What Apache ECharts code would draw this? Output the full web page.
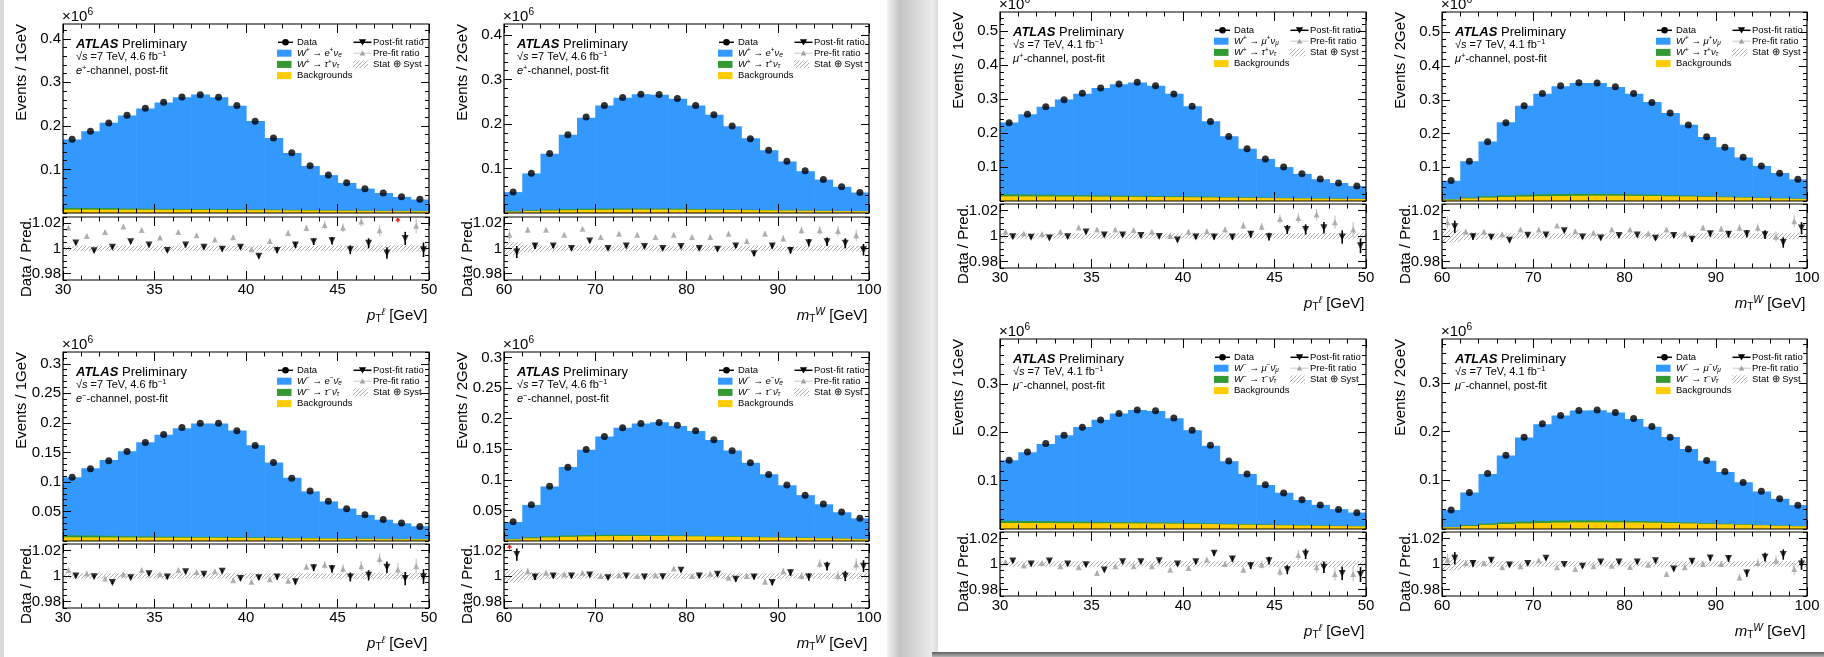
<!DOCTYPE html>
<html>
<head>
<meta charset="utf-8">
<title>W boson post-fit distributions</title>
<script src="https://cdn.jsdelivr.net/npm/echarts@6.0.0/dist/echarts.min.js"></script>
<style>
  html, body { margin: 0; padding: 0; background: #d9d9d9; }
  #chart { width: 1824px; height: 657px; }
</style>
</head>
<body>
<div id="chart"></div>
<script>
const FONT = '"Liberation Sans", Arial, Helvetica, sans-serif';
const COL_SIG = '#3399ff';
const COL_TAU = '#339933';
const COL_BKG = '#ffcc00';

// ---- binning and tick labels ----
const ptEdges = [30, 31, 32, 33, 34, 35, 36, 37, 38, 39, 40, 41, 42, 43, 44, 45, 46, 47, 48, 49, 50];
const mtEdges = [60, 62, 64, 66, 68, 70, 72, 74, 76, 78, 80, 82, 84, 86, 88, 90, 92, 94, 96, 98, 100];
const ptTickLabels = [30, 35, 40, 45, 50];
const mtTickLabels = [60, 70, 80, 90, 100];
const ratioTickLabels = [0.98, 1, 1.02];
const ePlusYTicks = [0.1, 0.2, 0.3, 0.4];
const eMinusYTicks = [0.05, 0.1, 0.15, 0.2, 0.25, 0.3];
const muPlusYTicks = [0.1, 0.2, 0.3, 0.4, 0.5];
const muMinusYTicks = [0.1, 0.2, 0.3];
const RATIO_MIN = 0.975, RATIO_MAX = 1.025;

// ---- e+ channel, lepton pT (events x10^6 per GeV) ----
const ePlusPtData = [0.1695, 0.1878, 0.2069, 0.2244, 0.2405, 0.2542, 0.2664, 0.2718, 0.2656, 0.2466,
                     0.2107, 0.1725, 0.1382, 0.1084, 0.0870, 0.0695, 0.0557, 0.0458, 0.0374, 0.0313];
const ePlusPtPred = [0.169, 0.188, 0.207, 0.224, 0.240, 0.254, 0.266, 0.272, 0.266, 0.246,
                     0.211, 0.172, 0.138, 0.108, 0.087, 0.069, 0.056, 0.046, 0.037, 0.031];
const ePlusPtTau  = [0.0040, 0.0038, 0.0035, 0.0028, 0.0025, 0.0022, 0.0020, 0.0019, 0.0018, 0.0017,
                     0.0016, 0.0014, 0.0013, 0.0012, 0.0011, 0.0010, 0.0009, 0.0008, 0.0008, 0.0007];
const ePlusPtBkg  = [0.0078, 0.0077, 0.0076, 0.0075, 0.0074, 0.0073, 0.0072, 0.0071, 0.0070, 0.0068,
                     0.0066, 0.0063, 0.0060, 0.0057, 0.0054, 0.0051, 0.0048, 0.0045, 0.0042, 0.0040];
const ePlusPtPre  = [1.0164, 1.0100, 1.0130, 1.0174, 1.0146, 1.0087, 1.0130, 1.0105, 1.0072, 1.0090,
                     0.9995, 1.0059, 1.0123, 1.0162, 1.0187, 1.0164, 1.0215, 1.0144, 1.0280, 1.0180];
const ePlusPtPost = [1.0044, 0.9982, 1.0010, 1.0054, 1.0028, 0.9985, 1.0028, 1.0010, 0.9995, 1.0010,
                     0.9938, 0.9985, 1.0028, 1.0054, 1.0062, 0.9990, 1.0041, 0.9964, 1.0080, 0.9990];

// ---- e+ channel, transverse mass (per 2 GeV) ----
const ePlusMtData = [0.0470, 0.0896, 0.1336, 0.1760, 0.2157, 0.2418, 0.2597, 0.2672, 0.2664, 0.2575,
                     0.2418, 0.2209, 0.1955, 0.1672, 0.1410, 0.1164, 0.0948, 0.0754, 0.0590, 0.0463];
const ePlusMtPred = [0.047, 0.089, 0.133, 0.176, 0.214, 0.242, 0.259, 0.267, 0.266, 0.257,
                     0.242, 0.221, 0.195, 0.168, 0.141, 0.116, 0.094, 0.075, 0.059, 0.046];
const ePlusMtTau  = [0.0008, 0.0015, 0.0020, 0.0024, 0.0026, 0.0027, 0.0027, 0.0026, 0.0024, 0.0022,
                     0.0019, 0.0016, 0.0013, 0.0011, 0.0009, 0.0007, 0.0006, 0.0005, 0.0004, 0.0003];
const ePlusMtBkg  = [0.0030, 0.0045, 0.0055, 0.0062, 0.0068, 0.0072, 0.0075, 0.0076, 0.0076, 0.0075,
                     0.0073, 0.0070, 0.0067, 0.0063, 0.0059, 0.0055, 0.0051, 0.0047, 0.0043, 0.0040];
const ePlusMtPre  = [1.0110, 1.0149, 1.0149, 1.0110, 1.0156, 1.0092, 1.0118, 1.0110, 1.0092, 1.0110,
                     1.0092, 1.0092, 1.0118, 1.0059, 1.0118, 1.0080, 1.0144, 1.0144, 1.0138, 1.0105];
const ePlusMtPost = [0.9972, 1.0020, 1.0020, 1.0000, 1.0059, 1.0000, 1.0020, 1.0015, 1.0000, 1.0015,
                     1.0000, 0.9995, 1.0020, 0.9959, 1.0020, 0.9985, 1.0046, 1.0054, 1.0041, 0.9990];

// ---- e- channel, lepton pT ----
const eMinusPtData = [0.1079, 0.1225, 0.1360, 0.1517, 0.1669, 0.1803, 0.1921, 0.1994, 0.1994, 0.1865,
                      0.1618, 0.1331, 0.1062, 0.0848, 0.0674, 0.0545, 0.0444, 0.0365, 0.0303, 0.0247];
const eMinusPtPred = [0.108, 0.123, 0.137, 0.152, 0.167, 0.180, 0.191, 0.199, 0.199, 0.187,
                      0.162, 0.133, 0.107, 0.084, 0.067, 0.055, 0.044, 0.036, 0.030, 0.025];
const eMinusPtTau  = [0.0034, 0.0032, 0.0028, 0.0022, 0.0019, 0.0017, 0.0015, 0.0014, 0.0013, 0.0012,
                      0.0011, 0.0010, 0.0009, 0.0008, 0.0008, 0.0007, 0.0006, 0.0006, 0.0005, 0.0005];
const eMinusPtBkg  = [0.0062, 0.0061, 0.0060, 0.0059, 0.0058, 0.0057, 0.0056, 0.0055, 0.0054, 0.0052,
                      0.0050, 0.0048, 0.0045, 0.0042, 0.0040, 0.0037, 0.0035, 0.0032, 0.0030, 0.0028];
const eMinusPtPre  = [1.0046, 1.0020, 0.9980, 1.0013, 1.0046, 1.0013, 1.0046, 1.0031, 1.0038, 0.9967,
                      0.9956, 0.9974, 0.9962, 1.0072, 1.0087, 1.0056, 1.0077, 1.0133, 1.0051, 1.0077];
const eMinusPtPost = [1.0000, 0.9995, 0.9949, 0.9987, 1.0018, 0.9992, 1.0033, 1.0013, 1.0038, 0.9980,
                      0.9987, 0.9992, 0.9956, 1.0064, 1.0056, 0.9992, 1.0005, 1.0069, 0.9980, 0.9995];

// ---- e- channel, transverse mass ----
const eMinusMtData = [0.0316, 0.0592, 0.0894, 0.1207, 0.1494, 0.1710, 0.1850, 0.1920, 0.1936, 0.1893,
                      0.1801, 0.1656, 0.1477, 0.1278, 0.1089, 0.0916, 0.0748, 0.0603, 0.0473, 0.0370];
const eMinusMtPred = [0.031, 0.059, 0.089, 0.121, 0.149, 0.171, 0.185, 0.192, 0.194, 0.188,
                      0.180, 0.165, 0.148, 0.128, 0.109, 0.091, 0.075, 0.060, 0.047, 0.037];
const eMinusMtTau  = [0.0008, 0.0016, 0.0020, 0.0022, 0.0022, 0.0021, 0.0020, 0.0018, 0.0016, 0.0014,
                      0.0012, 0.0011, 0.0010, 0.0009, 0.0008, 0.0007, 0.0006, 0.0005, 0.0005, 0.0004];
const eMinusMtBkg  = [0.0027, 0.0044, 0.0058, 0.0068, 0.0075, 0.0080, 0.0082, 0.0082, 0.0081, 0.0079,
                      0.0076, 0.0072, 0.0068, 0.0063, 0.0058, 0.0053, 0.0048, 0.0043, 0.0038, 0.0030];
const eMinusMtPre  = [1.0270, 1.0038, 1.0026, 1.0013, 1.0026, 1.0000, 1.0005, 1.0000, 1.0005, 1.0059,
                      1.0000, 1.0018, 0.9987, 1.0000, 0.9956, 1.0038, 1.0000, 1.0095, 1.0000, 1.0090];
const eMinusMtPost = [1.0167, 0.9992, 1.0000, 1.0000, 1.0008, 0.9987, 1.0000, 0.9992, 0.9995, 1.0044,
                      1.0000, 1.0013, 0.9974, 0.9992, 0.9949, 1.0026, 0.9992, 1.0077, 1.0000, 1.0077];

// ---- mu+ channel, lepton pT ----
const muPlusPtData = [0.2307, 0.2553, 0.2779, 0.2985, 0.3172, 0.3329, 0.3447, 0.3496, 0.3398, 0.3152,
                      0.2789, 0.2346, 0.1904, 0.1541, 0.1236, 0.1000, 0.0803, 0.0646, 0.0528, 0.0440];
const muPlusPtPred = [0.231, 0.256, 0.278, 0.299, 0.316, 0.333, 0.344, 0.349, 0.340, 0.316,
                      0.279, 0.235, 0.191, 0.154, 0.124, 0.100, 0.080, 0.064, 0.053, 0.044];
const muPlusPtTau  = [0.0059, 0.0055, 0.0050, 0.0044, 0.0040, 0.0036, 0.0033, 0.0030, 0.0028, 0.0026,
                      0.0024, 0.0022, 0.0020, 0.0018, 0.0016, 0.0015, 0.0013, 0.0012, 0.0011, 0.0010];
const muPlusPtBkg  = [0.0138, 0.0136, 0.0134, 0.0132, 0.0130, 0.0128, 0.0125, 0.0122, 0.0118, 0.0114,
                      0.0109, 0.0104, 0.0098, 0.0092, 0.0086, 0.0080, 0.0074, 0.0068, 0.0063, 0.0059];
const muPlusPtPre  = [1.0033, 1.0020, 1.0015, 1.0033, 1.0067, 1.0051, 1.0051, 1.0046, 1.0033, 1.0000,
                      1.0033, 1.0038, 1.0051, 1.0082, 1.0072, 1.0133, 1.0141, 1.0167, 1.0108, 1.0051];
const muPlusPtPost = [0.9995, 0.9990, 0.9985, 0.9995, 1.0031, 1.0008, 1.0008, 1.0003, 0.9997, 0.9969,
                      0.9992, 0.9992, 0.9992, 1.0013, 0.9995, 1.0051, 1.0051, 1.0064, 0.9992, 0.9923];

// ---- mu+ channel, transverse mass ----
const muPlusMtData = [0.0606, 0.1177, 0.1759, 0.2320, 0.2823, 0.3187, 0.3414, 0.3502, 0.3493, 0.3384,
                      0.3187, 0.2921, 0.2606, 0.2251, 0.1906, 0.1591, 0.1296, 0.1039, 0.0823, 0.0645];
const muPlusMtPred = [0.060, 0.118, 0.176, 0.233, 0.282, 0.318, 0.340, 0.350, 0.350, 0.338,
                      0.318, 0.293, 0.261, 0.226, 0.190, 0.159, 0.129, 0.104, 0.083, 0.064];
const muPlusMtTau  = [0.0010, 0.0025, 0.0038, 0.0047, 0.0053, 0.0057, 0.0058, 0.0057, 0.0054, 0.0050,
                      0.0045, 0.0039, 0.0033, 0.0028, 0.0023, 0.0019, 0.0015, 0.0012, 0.0010, 0.0008];
const muPlusMtBkg  = [0.0040, 0.0075, 0.0100, 0.0118, 0.0132, 0.0142, 0.0150, 0.0155, 0.0157, 0.0156,
                      0.0153, 0.0148, 0.0141, 0.0132, 0.0122, 0.0111, 0.0099, 0.0087, 0.0074, 0.0062];
const muPlusMtPre  = [1.0108, 1.0033, 1.0033, 1.0013, 1.0051, 1.0051, 1.0082, 1.0038, 1.0026, 1.0051,
                      1.0051, 1.0020, 1.0051, 1.0018, 1.0064, 1.0056, 1.0064, 1.0064, 0.9995, 1.0115];
const muPlusMtPost = [1.0072, 0.9995, 0.9990, 0.9967, 1.0005, 1.0008, 1.0041, 0.9992, 0.9985, 1.0003,
                      1.0008, 0.9982, 1.0003, 0.9974, 1.0018, 1.0013, 1.0018, 1.0010, 0.9949, 1.0062];

// ---- mu- channel, lepton pT ----
const muMinusPtData = [0.1422, 0.1595, 0.1768, 0.1941, 0.2107, 0.2253, 0.2391, 0.2460, 0.2446, 0.2294,
                       0.2045, 0.1734, 0.1408, 0.1138, 0.0917, 0.0744, 0.0606, 0.0495, 0.0405, 0.0336];
const muMinusPtPred = [0.142, 0.159, 0.176, 0.194, 0.211, 0.226, 0.239, 0.246, 0.244, 0.229,
                       0.204, 0.172, 0.140, 0.114, 0.091, 0.075, 0.060, 0.050, 0.041, 0.034];
const muMinusPtTau  = [0.0045, 0.0042, 0.0038, 0.0033, 0.0030, 0.0027, 0.0025, 0.0023, 0.0021, 0.0019,
                       0.0017, 0.0015, 0.0014, 0.0013, 0.0012, 0.0011, 0.0010, 0.0009, 0.0008, 0.0008];
const muMinusPtBkg  = [0.0125, 0.0124, 0.0123, 0.0122, 0.0121, 0.0120, 0.0118, 0.0116, 0.0113, 0.0110,
                       0.0106, 0.0101, 0.0095, 0.0089, 0.0083, 0.0077, 0.0071, 0.0065, 0.0060, 0.0055];
const muMinusPtPre  = [1.0016, 0.9989, 1.0008, 0.9982, 0.9974, 0.9929, 0.9982, 0.9982, 0.9982, 0.9955,
                       0.9968, 1.0034, 1.0000, 0.9955, 0.9995, 0.9942, 1.0071, 0.9974, 0.9921, 0.9921];
const muMinusPtPost = [1.0024, 1.0000, 1.0024, 1.0000, 0.9995, 0.9953, 1.0018, 1.0018, 1.0026, 1.0000,
                       1.0018, 1.0084, 1.0039, 0.9987, 1.0026, 0.9955, 1.0079, 0.9974, 0.9926, 0.9918];

// ---- mu- channel, transverse mass ----
const muMinusMtData = [0.0390, 0.0747, 0.1137, 0.1514, 0.1884, 0.2158, 0.2329, 0.2432, 0.2445, 0.2390,
                       0.2267, 0.2103, 0.1884, 0.1644, 0.1404, 0.1178, 0.0952, 0.0774, 0.0623, 0.0486];
const muMinusMtPred = [0.039, 0.075, 0.113, 0.151, 0.188, 0.215, 0.233, 0.243, 0.244, 0.239,
                       0.226, 0.210, 0.189, 0.164, 0.140, 0.117, 0.096, 0.077, 0.062, 0.049];
const muMinusMtTau  = [0.0008, 0.0018, 0.0028, 0.0035, 0.0039, 0.0041, 0.0041, 0.0040, 0.0038, 0.0035,
                       0.0031, 0.0027, 0.0023, 0.0019, 0.0016, 0.0013, 0.0011, 0.0009, 0.0008, 0.0007];
const muMinusMtBkg  = [0.0034, 0.0062, 0.0085, 0.0102, 0.0115, 0.0125, 0.0132, 0.0136, 0.0137, 0.0136,
                       0.0133, 0.0128, 0.0122, 0.0114, 0.0105, 0.0096, 0.0087, 0.0077, 0.0066, 0.0055];
const muMinusMtPre  = [1.0034, 1.0008, 1.0008, 0.9974, 0.9982, 1.0029, 0.9974, 0.9961, 0.9982, 0.9987,
                       0.9976, 0.9995, 0.9921, 0.9974, 1.0000, 1.0000, 0.9895, 1.0008, 1.0026, 0.9961];
const muMinusMtPost = [1.0045, 1.0003, 1.0029, 0.9992, 1.0003, 1.0045, 0.9997, 0.9982, 1.0016, 1.0016,
                       1.0016, 1.0026, 0.9961, 1.0021, 1.0047, 1.0042, 0.9929, 1.0053, 1.0074, 1.0000];

// ---- ratio uncertainties ----
const ptRatioErr = [0.0012, 0.0012, 0.0012, 0.0012, 0.0012, 0.0012, 0.0012, 0.0012, 0.0013, 0.0014,
                    0.0016, 0.0019, 0.0022, 0.0026, 0.0030, 0.0035, 0.0040, 0.0045, 0.0052, 0.0058];
const mtRatioErr = [0.0048, 0.0024, 0.0016, 0.0013, 0.0012, 0.0012, 0.0012, 0.0012, 0.0012, 0.0012,
                    0.0013, 0.0014, 0.0016, 0.0018, 0.0021, 0.0025, 0.0029, 0.0034, 0.0040, 0.0046];
const ptBand = [0.0021, 0.0021, 0.0021, 0.0021, 0.0021, 0.0021, 0.0021, 0.0021, 0.0021, 0.0021,
                0.0021, 0.0021, 0.0021, 0.0021, 0.0021, 0.0022, 0.0023, 0.0024, 0.0025, 0.0026];
const mtBand = [0.0050, 0.0030, 0.0023, 0.0021, 0.0021, 0.0021, 0.0021, 0.0021, 0.0021, 0.0021,
                0.0021, 0.0021, 0.0021, 0.0021, 0.0021, 0.0021, 0.0021, 0.0022, 0.0023, 0.0025];

const panels = [
  { edges: ptEdges, xTicks: ptTickLabels, xMinor: 1, yMax: 0.434, yTicks: ePlusYTicks, yMinor: 0.02,
    data: ePlusPtData, pred: ePlusPtPred, tau: ePlusPtTau, bkg: ePlusPtBkg, pre: ePlusPtPre, post: ePlusPtPost,
    err: ptRatioErr, band: ptBand, obs: 'pt', lep: 'e', sign: '+', lumi: '4.6' },
  { edges: mtEdges, xTicks: mtTickLabels, xMinor: 2, yMax: 0.425, yTicks: ePlusYTicks, yMinor: 0.02,
    data: ePlusMtData, pred: ePlusMtPred, tau: ePlusMtTau, bkg: ePlusMtBkg, pre: ePlusMtPre, post: ePlusMtPost,
    err: mtRatioErr, band: mtBand, obs: 'mt', lep: 'e', sign: '+', lumi: '4.6' },
  { edges: ptEdges, xTicks: ptTickLabels, xMinor: 1, yMax: 0.32, yTicks: eMinusYTicks, yMinor: 0.01,
    data: eMinusPtData, pred: eMinusPtPred, tau: eMinusPtTau, bkg: eMinusPtBkg, pre: eMinusPtPre, post: eMinusPtPost,
    err: ptRatioErr, band: ptBand, obs: 'pt', lep: 'e', sign: '-', lumi: '4.6' },
  { edges: mtEdges, xTicks: mtTickLabels, xMinor: 2, yMax: 0.309, yTicks: eMinusYTicks, yMinor: 0.01,
    data: eMinusMtData, pred: eMinusMtPred, tau: eMinusMtTau, bkg: eMinusMtBkg, pre: eMinusMtPre, post: eMinusMtPost,
    err: mtRatioErr, band: mtBand, obs: 'mt', lep: 'e', sign: '-', lumi: '4.6' },
  { edges: ptEdges, xTicks: ptTickLabels, xMinor: 1, yMax: 0.557, yTicks: muPlusYTicks, yMinor: 0.02,
    data: muPlusPtData, pred: muPlusPtPred, tau: muPlusPtTau, bkg: muPlusPtBkg, pre: muPlusPtPre, post: muPlusPtPost,
    err: ptRatioErr, band: ptBand, obs: 'pt', lep: 'mu', sign: '+', lumi: '4.1' },
  { edges: mtEdges, xTicks: mtTickLabels, xMinor: 2, yMax: 0.56, yTicks: muPlusYTicks, yMinor: 0.02,
    data: muPlusMtData, pred: muPlusMtPred, tau: muPlusMtTau, bkg: muPlusMtBkg, pre: muPlusMtPre, post: muPlusMtPost,
    err: mtRatioErr, band: mtBand, obs: 'mt', lep: 'mu', sign: '+', lumi: '4.1' },
  { edges: ptEdges, xTicks: ptTickLabels, xMinor: 1, yMax: 0.393, yTicks: muMinusYTicks, yMinor: 0.02,
    data: muMinusPtData, pred: muMinusPtPred, tau: muMinusPtTau, bkg: muMinusPtBkg, pre: muMinusPtPre, post: muMinusPtPost,
    err: ptRatioErr, band: ptBand, obs: 'pt', lep: 'mu', sign: '-', lumi: '4.1' },
  { edges: mtEdges, xTicks: mtTickLabels, xMinor: 2, yMax: 0.39, yTicks: muMinusYTicks, yMinor: 0.02,
    data: muMinusMtData, pred: muMinusMtPred, tau: muMinusMtTau, bkg: muMinusMtBkg, pre: muMinusMtPre, post: muMinusMtPost,
    err: mtRatioErr, band: mtBand, obs: 'mt', lep: 'mu', sign: '-', lumi: '4.1' }
];

// frame boxes: L/R edges, main pad top/bottom, ratio pad top/bottom (px)
const frames = [
  { L: 63,   R: 429,  T: 24,  MB: 213, RT: 217, RB: 280 },
  { L: 504,  R: 869,  T: 24,  MB: 213, RT: 217, RB: 280 },
  { L: 63,   R: 429,  T: 352, MB: 541, RT: 544, RB: 608 },
  { L: 504,  R: 869,  T: 352, MB: 541, RT: 544, RB: 608 },
  { L: 1000, R: 1366, T: 12,  MB: 201, RT: 204, RB: 268 },
  { L: 1442, R: 1807, T: 12,  MB: 201, RT: 204, RB: 268 },
  { L: 1000, R: 1366, T: 339, MB: 529, RT: 532, RB: 596 },
  { L: 1442, R: 1807, T: 339, MB: 529, RT: 532, RB: 596 }
];

// ---- helpers ----
function makeHatch() {
  const c = document.createElement('canvas');
  c.width = 4; c.height = 4;
  const ctx = c.getContext('2d');
  ctx.strokeStyle = '#8c8c8c';
  ctx.lineWidth = 0.7;
  ctx.beginPath();
  ctx.moveTo(0, 4); ctx.lineTo(4, 0);
  ctx.moveTo(-1, 1); ctx.lineTo(1, -1);
  ctx.moveTo(3, 5); ctx.lineTo(5, 3);
  ctx.stroke();
  return c;
}
const hatchFill = { image: makeHatch(), repeat: 'repeat' };

function ticksBetween(lo, hi, step, majors) {
  const out = [];
  const n = Math.floor((hi - lo) / step + 1e-6);
  for (let k = 0; k <= n; k++) {
    const v = +(lo + k * step).toFixed(6);
    if (!majors.some(m => Math.abs(m - v) < 1e-9)) out.push(v);
  }
  return out;
}

const fmtNum = v => String(+(+v).toFixed(3));
const LABEL = { fontSize: 15, fontFamily: FONT, color: '#000', margin: 2, formatter: fmtNum };

function rich(size) {
  const s = +(size * 0.68).toFixed(1);
  const up = Math.round(size * 0.55), dn = Math.round(size * 0.45);
  const base = { fontFamily: FONT, fill: '#000' };
  return {
    it:   Object.assign({ fontSize: size, fontStyle: 'italic' }, base),
    bi:   Object.assign({ fontSize: size, fontStyle: 'italic', fontWeight: 'bold' }, base),
    n:    Object.assign({ fontSize: size }, base),
    sup:  Object.assign({ fontSize: s, padding: [0, 0, up, 0] }, base),
    supi: Object.assign({ fontSize: s, fontStyle: 'italic', padding: [0, 0, up, 0] }, base),
    sub:  Object.assign({ fontSize: s, padding: [dn, 0, 0, 0] }, base),
    subi: Object.assign({ fontSize: s, fontStyle: 'italic', padding: [dn, 0, 0, 0] }, base)
  };
}

function textEl(x, y, text, size, opts) {
  opts = opts || {};
  return {
    type: 'text', x: x, y: y, z: 40, silent: true, rotation: opts.rotation || 0,
    style: {
      text: text, fontSize: size, fontFamily: FONT, fill: '#000',
      fontWeight: opts.bold ? 'bold' : 'normal',
      align: opts.align || 'left', verticalAlign: 'middle',
      textAlign: opts.align || 'left', textVerticalAlign: 'middle',
      rich: rich(size)
    }
  };
}

function layerRect(fill) {
  return function (params, api) {
    const a = api.coord([api.value(0), api.value(3)]);
    const b = api.coord([api.value(1), api.value(2)]);
    return { type: 'rect', shape: { x: a[0], y: a[1], width: b[0] - a[0] + 0.6, height: b[1] - a[1] },
             style: { fill: fill } };
  };
}

function errorBars(color, width, yMax, arrowColor) {
  return function (params, api) {
    const x = api.value(0), v = api.value(1), e = api.value(2);
    if (v > yMax) {
      if (!arrowColor) return null;
      const top = api.coord([x, yMax]);
      const base = api.coord([x, yMax - 0.0042]);
      return { type: 'group', children: [
        { type: 'line', shape: { x1: base[0], y1: base[1], x2: top[0], y2: top[1] + 2 },
          style: { stroke: arrowColor, lineWidth: 1.5 } },
        { type: 'polygon', shape: { points: [[top[0] - 2.6, top[1] + 3.8], [top[0] + 2.6, top[1] + 3.8], [top[0], top[1] + 0.3]] },
          style: { fill: arrowColor } }
      ] };
    }
    const p = api.coord([x, v - e]), q = api.coord([x, v + e]);
    return { type: 'line', shape: { x1: p[0], y1: p[1], x2: q[0], y2: q[1] },
             style: { stroke: color, lineWidth: width } };
  };
}

const grids = [], xAxis = [], yAxis = [], series = [], elements = [];

function addAxisSet(list, g, min, max, majors, minors, positions, lens, labelOn) {
  const first = list.length;
  positions.forEach((pos, pi) => {
    [[majors, lens[0]], [minors, lens[1]]].forEach((pair, mi) => {
      const showLabel = labelOn && pi === 0 && mi === 0;
      list.push({
        gridIndex: g, type: 'value', min: min, max: max, position: pos, z: 10,
        axisLine: { show: false, onZero: false },
        splitLine: { show: false },
        axisTick: { show: true, inside: true, length: pair[1], customValues: pair[0],
                    lineStyle: { color: '#000', width: 1 } },
        axisLabel: showLabel ? Object.assign({ show: true, customValues: majors }, LABEL) : { show: false }
      });
    });
  });
  return first;
}

function signalLabel(lep, sign, tau) {
  const s = sign === '+' ? '+' : '−';
  const nu = sign === '+' ? 'ν' : 'ν\u0304';
  const l = tau ? 'τ' : (lep === 'e' ? 'e' : 'μ');
  return '{it|W}{sup|' + s + '} → {it|' + l + '}{sup|' + s + '}{it|' + nu + '}{subi|' + l + '}';
}

// ---- page sheets ----
elements.push({ type: 'rect', z: -20, silent: true, shape: { x: 0, y: 0, width: 1824, height: 657 },
                style: { fill: '#d9d9d9' } });
elements.push({ type: 'rect', z: -19, silent: true, shape: { x: 4, y: 0, width: 883, height: 657 },
                style: { fill: '#ffffff' } });
elements.push({ type: 'rect', z: -19, silent: true, shape: { x: 887, y: 0, width: 51, height: 657 },
                style: { fill: new echarts.graphic.LinearGradient(0, 0, 1, 0, [
                  { offset: 0, color: '#f3f3f3' }, { offset: 0.25, color: '#c4c4c4' },
                  { offset: 0.9, color: '#ececec' }, { offset: 1, color: '#dadada' }]) } });
elements.push({ type: 'rect', z: -18, silent: true, shape: { x: 938, y: 0, width: 886, height: 652 },
                style: { fill: '#ffffff' } });
elements.push({ type: 'rect', z: -18, silent: true, shape: { x: 932, y: 652, width: 892, height: 5 },
                style: { fill: new echarts.graphic.LinearGradient(0, 0, 0, 1, [
                  { offset: 0, color: '#5e5e5e' }, { offset: 1, color: '#b5b5b5' }]) } });

// ---- panels ----
panels.forEach((p, i) => {
  const f = frames[i];
  const W = f.R - f.L;
  const gMain = grids.length;
  grids.push({ left: f.L, top: f.T, width: W, height: f.MB - f.T, show: false });
  const gRat = grids.length;
  grids.push({ left: f.L, top: f.RT, width: W, height: f.RB - f.RT, show: false });

  const xMin = p.edges[0], xMax = p.edges[p.edges.length - 1];
  const xMinors = ticksBetween(xMin, xMax, p.xMinor, p.xTicks);
  const yMinors = ticksBetween(0, p.yMax, p.yMinor, p.yTicks);
  const rMinors = ticksBetween(RATIO_MIN, RATIO_MAX, 0.005, ratioTickLabels);

  const xm = addAxisSet(xAxis, gMain, xMin, xMax, p.xTicks, xMinors, ['bottom', 'top'], [9, 4.5], false);
  const ym = addAxisSet(yAxis, gMain, 0, p.yMax, p.yTicks, yMinors, ['left', 'right'], [8, 4], true);
  const xr = addAxisSet(xAxis, gRat, xMin, xMax, p.xTicks, xMinors, ['bottom', 'top'], [9, 4.5], true);
  const yr = addAxisSet(yAxis, gRat, RATIO_MIN, RATIO_MAX, ratioTickLabels, rMinors, ['left', 'right'], [8, 4], true);

  const lows = p.edges.slice(0, -1);
  const highs = p.edges.slice(1);
  const centers = lows.map((x0, k) => (x0 + highs[k]) / 2);
  const shift = k => 0.2 * (highs[k] - lows[k]);

  // stacked prediction: signal drawn to the stack top, tau and backgrounds over it
  series.push({ type: 'custom', xAxisIndex: xm, yAxisIndex: ym, clip: true, silent: true, z: 2,
    data: lows.map((x0, k) => [x0, highs[k], 0, p.pred[k]]), renderItem: layerRect(COL_SIG) });
  series.push({ type: 'custom', xAxisIndex: xm, yAxisIndex: ym, clip: true, silent: true, z: 2,
    data: lows.map((x0, k) => [x0, highs[k], 0, p.bkg[k] + p.tau[k]]), renderItem: layerRect(COL_TAU) });
  series.push({ type: 'custom', xAxisIndex: xm, yAxisIndex: ym, clip: true, silent: true, z: 2,
    data: lows.map((x0, k) => [x0, highs[k], 0, p.bkg[k]]), renderItem: layerRect(COL_BKG) });
  series.push({ type: 'scatter', xAxisIndex: xm, yAxisIndex: ym, silent: true, z: 5,
    data: centers.map((c, k) => [c, p.data[k]]), symbol: 'circle', symbolSize: 7,
    itemStyle: { color: '#000' } });

  // ratio pad
  series.push({ type: 'custom', xAxisIndex: xr, yAxisIndex: yr, clip: true, silent: true, z: 2,
    data: lows.map((x0, k) => [x0, highs[k], 1 - p.band[k], 1 + p.band[k]]), renderItem: layerRect(hatchFill) });
  series.push({ type: 'custom', xAxisIndex: xr, yAxisIndex: yr, clip: true, silent: true, z: 3,
    data: centers.map((c, k) => [c - shift(k), p.pre[k], p.err[k]]),
    renderItem: errorBars('#c8c8c8', 1.3, RATIO_MAX, '#ff1a1a') });
  series.push({ type: 'scatter', xAxisIndex: xr, yAxisIndex: yr, silent: true, z: 4,
    data: centers.map((c, k) => [c - shift(k), p.pre[k]]), symbol: 'triangle', symbolSize: 6,
    itemStyle: { color: '#a0a0a0' } });
  series.push({ type: 'custom', xAxisIndex: xr, yAxisIndex: yr, clip: true, silent: true, z: 5,
    data: centers.map((c, k) => [c + shift(k), p.post[k], p.err[k]]),
    renderItem: errorBars('#000', 1.6, RATIO_MAX, null) });
  series.push({ type: 'scatter', xAxisIndex: xr, yAxisIndex: yr, silent: true, z: 6,
    data: centers.map((c, k) => [c + shift(k), p.post[k]]), symbol: 'triangle', symbolRotate: 180,
    symbolSize: 7, itemStyle: { color: '#000' } });

  // frames
  [[f.T, f.MB], [f.RT, f.RB]].forEach(tb => {
    elements.push({ type: 'rect', z: 30, silent: true,
      shape: { x: f.L, y: tb[0], width: W, height: tb[1] - tb[0] },
      style: { fill: null, stroke: '#000', lineWidth: 1.2 } });
  });

  // annotations
  const L = f.L, T = f.T;
  const lepSym = p.lep === 'e' ? 'e' : 'μ';
  const sg = p.sign === '+' ? '+' : '−';
  elements.push(textEl(L - 1, T - 7.5, '×10{sup|6}', 15));
  elements.push(textEl(L + 13, T + 20, '{bi|ATLAS} Preliminary', 13));
  elements.push(textEl(L + 13, T + 33.3, '√{it|s} =7 TeV, ' + p.lumi + ' fb{sup|−1}', 11));
  elements.push(textEl(L + 13, T + 46.7, '{it|' + lepSym + '}{sup|' + sg + '}-channel, post-fit', 11));

  // legend
  const rows = [T + 18.3, T + 29.2, T + 40.4, T + 51.6];
  elements.push({ type: 'line', z: 40, silent: true, shape: { x1: L + 215, y1: rows[0], x2: L + 230, y2: rows[0] },
                  style: { stroke: '#000', lineWidth: 1.5 } });
  elements.push({ type: 'circle', z: 41, silent: true, shape: { cx: L + 222.5, cy: rows[0], r: 3.3 },
                  style: { fill: '#000' } });
  [COL_SIG, COL_TAU, COL_BKG].forEach((c, k) => {
    elements.push({ type: 'rect', z: 40, silent: true, shape: { x: L + 214, y: rows[k + 1] - 3.5, width: 14.5, height: 7 },
                    style: { fill: c } });
  });
  elements.push(textEl(L + 234, rows[0], 'Data', 9.5));
  elements.push(textEl(L + 234, rows[1], signalLabel(p.lep, p.sign, false), 9.5));
  elements.push(textEl(L + 234, rows[2], signalLabel(p.lep, p.sign, true), 9.5));
  elements.push(textEl(L + 234, rows[3], 'Backgrounds', 9.5));

  const cx = L + 299.5;
  elements.push({ type: 'line', z: 40, silent: true, shape: { x1: L + 290.5, y1: rows[0], x2: L + 308.5, y2: rows[0] },
                  style: { stroke: '#000', lineWidth: 1.5 } });
  elements.push({ type: 'polygon', z: 41, silent: true,
                  shape: { points: [[cx - 3.6, rows[0] - 3], [cx + 3.6, rows[0] - 3], [cx, rows[0] + 3.2]] },
                  style: { fill: '#000' } });
  elements.push({ type: 'line', z: 40, silent: true, shape: { x1: L + 290.5, y1: rows[1], x2: L + 308.5, y2: rows[1] },
                  style: { stroke: '#c8c8c8', lineWidth: 1 } });
  elements.push({ type: 'polygon', z: 41, silent: true,
                  shape: { points: [[cx - 2.8, rows[1] + 2.3], [cx + 2.8, rows[1] + 2.3], [cx, rows[1] - 2.7]] },
                  style: { fill: '#a0a0a0' } });
  elements.push({ type: 'rect', z: 40, silent: true, shape: { x: L + 290, y: rows[2] - 4, width: 15, height: 8 },
                  style: { fill: hatchFill } });
  elements.push(textEl(L + 310, rows[0], 'Post-fit ratio', 9.5));
  elements.push(textEl(L + 310, rows[1], 'Pre-fit ratio', 9.5));
  elements.push(textEl(L + 310, rows[2], 'Stat ⊕ Syst', 9.5));

  // axis titles
  const perBin = p.obs === 'pt' ? 'Events / 1GeV' : 'Events / 2GeV';
  elements.push(textEl(L - 41, T, perBin, 15, { rotation: Math.PI / 2, align: 'right' }));
  elements.push(textEl(L - 36, f.RT, 'Data / Pred.', 15, { rotation: Math.PI / 2, align: 'right' }));
  const xTitle = p.obs === 'pt' ? '{it|p}{sub|T}{supi|ℓ} [GeV]' : '{it|m}{sub|T}{supi|W} [GeV]';
  elements.push(textEl(f.R - 1.5, f.RB + 36, xTitle, 15, { align: 'right' }));
});

const chart = echarts.init(document.getElementById('chart'), null, { renderer: 'canvas' });
chart.setOption({
  animation: false,
  backgroundColor: 'transparent',
  grid: grids,
  xAxis: xAxis,
  yAxis: yAxis,
  series: series,
  graphic: { elements: elements }
});
</script>
</body>
</html>
